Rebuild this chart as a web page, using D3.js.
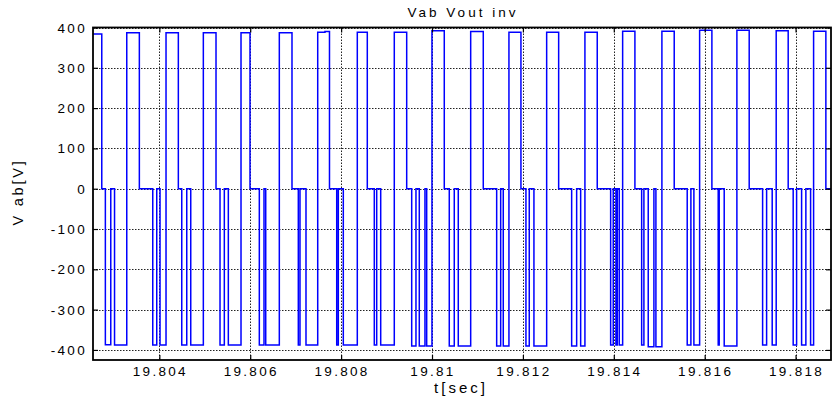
<!DOCTYPE html>
<html>
<head>
<meta charset="utf-8">
<script src="https://cdn.jsdelivr.net/npm/d3@7"></script>
<style>
  html, body { margin: 0; padding: 0; background: #fff; }
  svg { display: block; }
  text { font-family: "Liberation Sans", Arial, Helvetica, sans-serif; fill: #000; }
</style>
</head>
<body>
<svg id="chart" width="832" height="398"></svg>
<script>
// Switching instants [s] and the output level [V] held from each instant on
const times = [
  19.80254, 19.802733, 19.802812, 19.802931, 19.803014,
  19.803283, 19.80356, 19.803855, 19.803943, 19.804015,
  19.804147, 19.804418, 19.804493, 19.804603, 19.804691,
  19.804968, 19.805247, 19.805335, 19.80543, 19.805518,
  19.805797, 19.805995, 19.8062, 19.806303, 19.806341,
  19.80664, 19.806919, 19.807058, 19.807095, 19.807227,
  19.807485, 19.807645, 19.807744, 19.807903, 19.807938, 19.808048,
  19.808356, 19.808576, 19.80873, 19.808783, 19.808871,
  19.80917, 19.809443, 19.809553, 19.809647, 19.80972, 19.809845, 19.809883,
  19.809999, 19.81027, 19.81038, 19.81049, 19.810578,
  19.810851, 19.811128, 19.811423, 19.811511, 19.811568,
  19.811693, 19.811957, 19.812067, 19.81214, 19.812243,
  19.812523, 19.812787, 19.813073, 19.813183, 19.813271,
  19.813365, 19.813636, 19.813931, 19.813988, 19.814047, 19.814076, 19.81412,
  19.814195, 19.814465, 19.814613, 19.814663, 19.814758, 19.814883, 19.814927,
  19.815059, 19.81533, 19.815616, 19.815697, 19.815763,
  19.815889, 19.816159, 19.816298, 19.81632, 19.81643,
  19.816709, 19.81698, 19.817275, 19.817363, 19.817486,
  19.817574, 19.817838, 19.817948, 19.818023, 19.818133, 19.818227, 19.818331,
  19.818397, 19.818667
];
const levels = [
  384, 0, -387, 0, -388,
  387, 0, -388, 0, -388,
  387, 0, -388, 0, -388,
  387, 0, -388, 0, -388,
  387, 0, -388, 0, -388,
  387, 0, -388, 0, -388,
  388, 390, 0, -388, 0, -388,
  388, 0, -388, 0, -388,
  388, 0, -390, 0, -390, 0, -390,
  392, 0, -390, 0, -390,
  390, 0, -390, 0, -390,
  388, 0, -390, 0, -390,
  388, 0, -390, 0, -390,
  388, 0, -388, 0, -388, 0, -388,
  391, 0, -388, 0, -392, 0, -392,
  391, 0, -388, 0, -388,
  393, 0, -388, 0, -390,
  393, 0, -388, 0, -388,
  392, 0, -388, 0, -388, 0, -388,
  391, 0
];

const xDomain = [19.80254, 19.81878];
const yDomain = [-425, 400];
const xTicks = [19.804, 19.806, 19.808, 19.81, 19.812, 19.814, 19.816, 19.818];
const xTickLabels = ["19.804", "19.806", "19.808", "19.81", "19.812", "19.814", "19.816", "19.818"];
const yTicks = [-400, -300, -200, -100, 0, 100, 200, 300, 400];
const yTickLabels = ["-400", "-300", "-200", "-100", "0", "100", "200", "300", "400"];

const plot = { left: 93, right: 831, top: 27.5, bottom: 360 };

const svg = d3.select("#chart");
const x = d3.scaleLinear().domain(xDomain).range([plot.left, plot.right]);
const y = d3.scaleLinear().domain(yDomain).range([plot.bottom, plot.top]);

// dotted grid
const grid = svg.append("g")
  .attr("stroke", "#222")
  .attr("stroke-width", 1)
  .attr("stroke-dasharray", "1.5,1.5");
grid.selectAll("line.gx").data(xTicks).join("line")
  .attr("x1", d => Math.round(x(d)) + 0.5).attr("x2", d => Math.round(x(d)) + 0.5)
  .attr("y1", plot.top).attr("y2", plot.bottom);
grid.selectAll("line.gy").data(yTicks).join("line")
  .attr("y1", d => Math.round(y(d)) + 0.5).attr("y2", d => Math.round(y(d)) + 0.5)
  .attr("x1", plot.left).attr("x2", plot.right);

// signal trace, held between switching instants
const pts = times.map((t, i) => [t, levels[i]]);
pts.push([xDomain[1], levels[levels.length - 1]]);
const line = d3.line()
  .x(d => x(d[0]))
  .y(d => y(d[1]))
  .curve(d3.curveStepAfter);
svg.append("path")
  .datum(pts)
  .attr("fill", "none")
  .attr("stroke", "#0000ff")
  .attr("stroke-width", 1.5)
  .attr("d", line);

// axes: inward ticks, no labels from the generator
const tickLen = 5;
const bottomAxis = d3.axisBottom(x).tickValues(xTicks).tickSize(-tickLen).tickFormat("");
const topAxis = d3.axisTop(x).tickValues(xTicks).tickSize(-tickLen).tickFormat("");
const leftAxis = d3.axisLeft(y).tickValues(yTicks).tickSize(-tickLen).tickFormat("");
const rightAxis = d3.axisRight(y).tickValues(yTicks).tickSize(-tickLen).tickFormat("");

function styleAxis(g) {
  g.select(".domain").remove();
  g.selectAll(".tick line").attr("stroke", "#000").attr("stroke-width", 1.2);
}
svg.append("g").attr("transform", `translate(0,${plot.bottom})`).call(bottomAxis).call(styleAxis);
svg.append("g").attr("transform", `translate(0,${plot.top})`).call(topAxis).call(styleAxis);
svg.append("g").attr("transform", `translate(${plot.left},0)`).call(leftAxis).call(styleAxis);
svg.append("g").attr("transform", `translate(${plot.right},0)`).call(rightAxis).call(styleAxis);

// frame
svg.append("rect")
  .attr("x", plot.left).attr("y", plot.top)
  .attr("width", plot.right - plot.left).attr("height", plot.bottom - plot.top)
  .attr("fill", "none").attr("stroke", "#000").attr("stroke-width", 1.8);

// tick labels
svg.append("g").selectAll("text").data(xTicks).join("text")
  .attr("x", d => x(d) + 1).attr("y", 376)
  .attr("text-anchor", "middle")
  .attr("font-size", 13.5)
  .attr("letter-spacing", 2.3)
  .text((d, i) => xTickLabels[i]);
svg.append("g").selectAll("text").data(yTicks).join("text")
  .attr("x", 87).attr("y", d => y(d) + 5)
  .attr("text-anchor", "end")
  .attr("font-size", 13.5)
  .attr("letter-spacing", 2.3)
  .text((d, i) => yTickLabels[i]);

// titles
svg.append("text").attr("x", 463).attr("y", 17)
  .attr("text-anchor", "middle").attr("font-size", 13.5).attr("letter-spacing", 3)
  .text("Vab Vout inv");
svg.append("text").attr("x", 461).attr("y", 393)
  .attr("text-anchor", "middle").attr("font-size", 15).attr("letter-spacing", 3)
  .text("t[sec]");
svg.append("text")
  .attr("transform", "translate(23,192) rotate(-90)")
  .attr("text-anchor", "middle").attr("font-size", 14.5).attr("letter-spacing", 2.8)
  .text("V ab[V]");
</script>
</body>
</html>
